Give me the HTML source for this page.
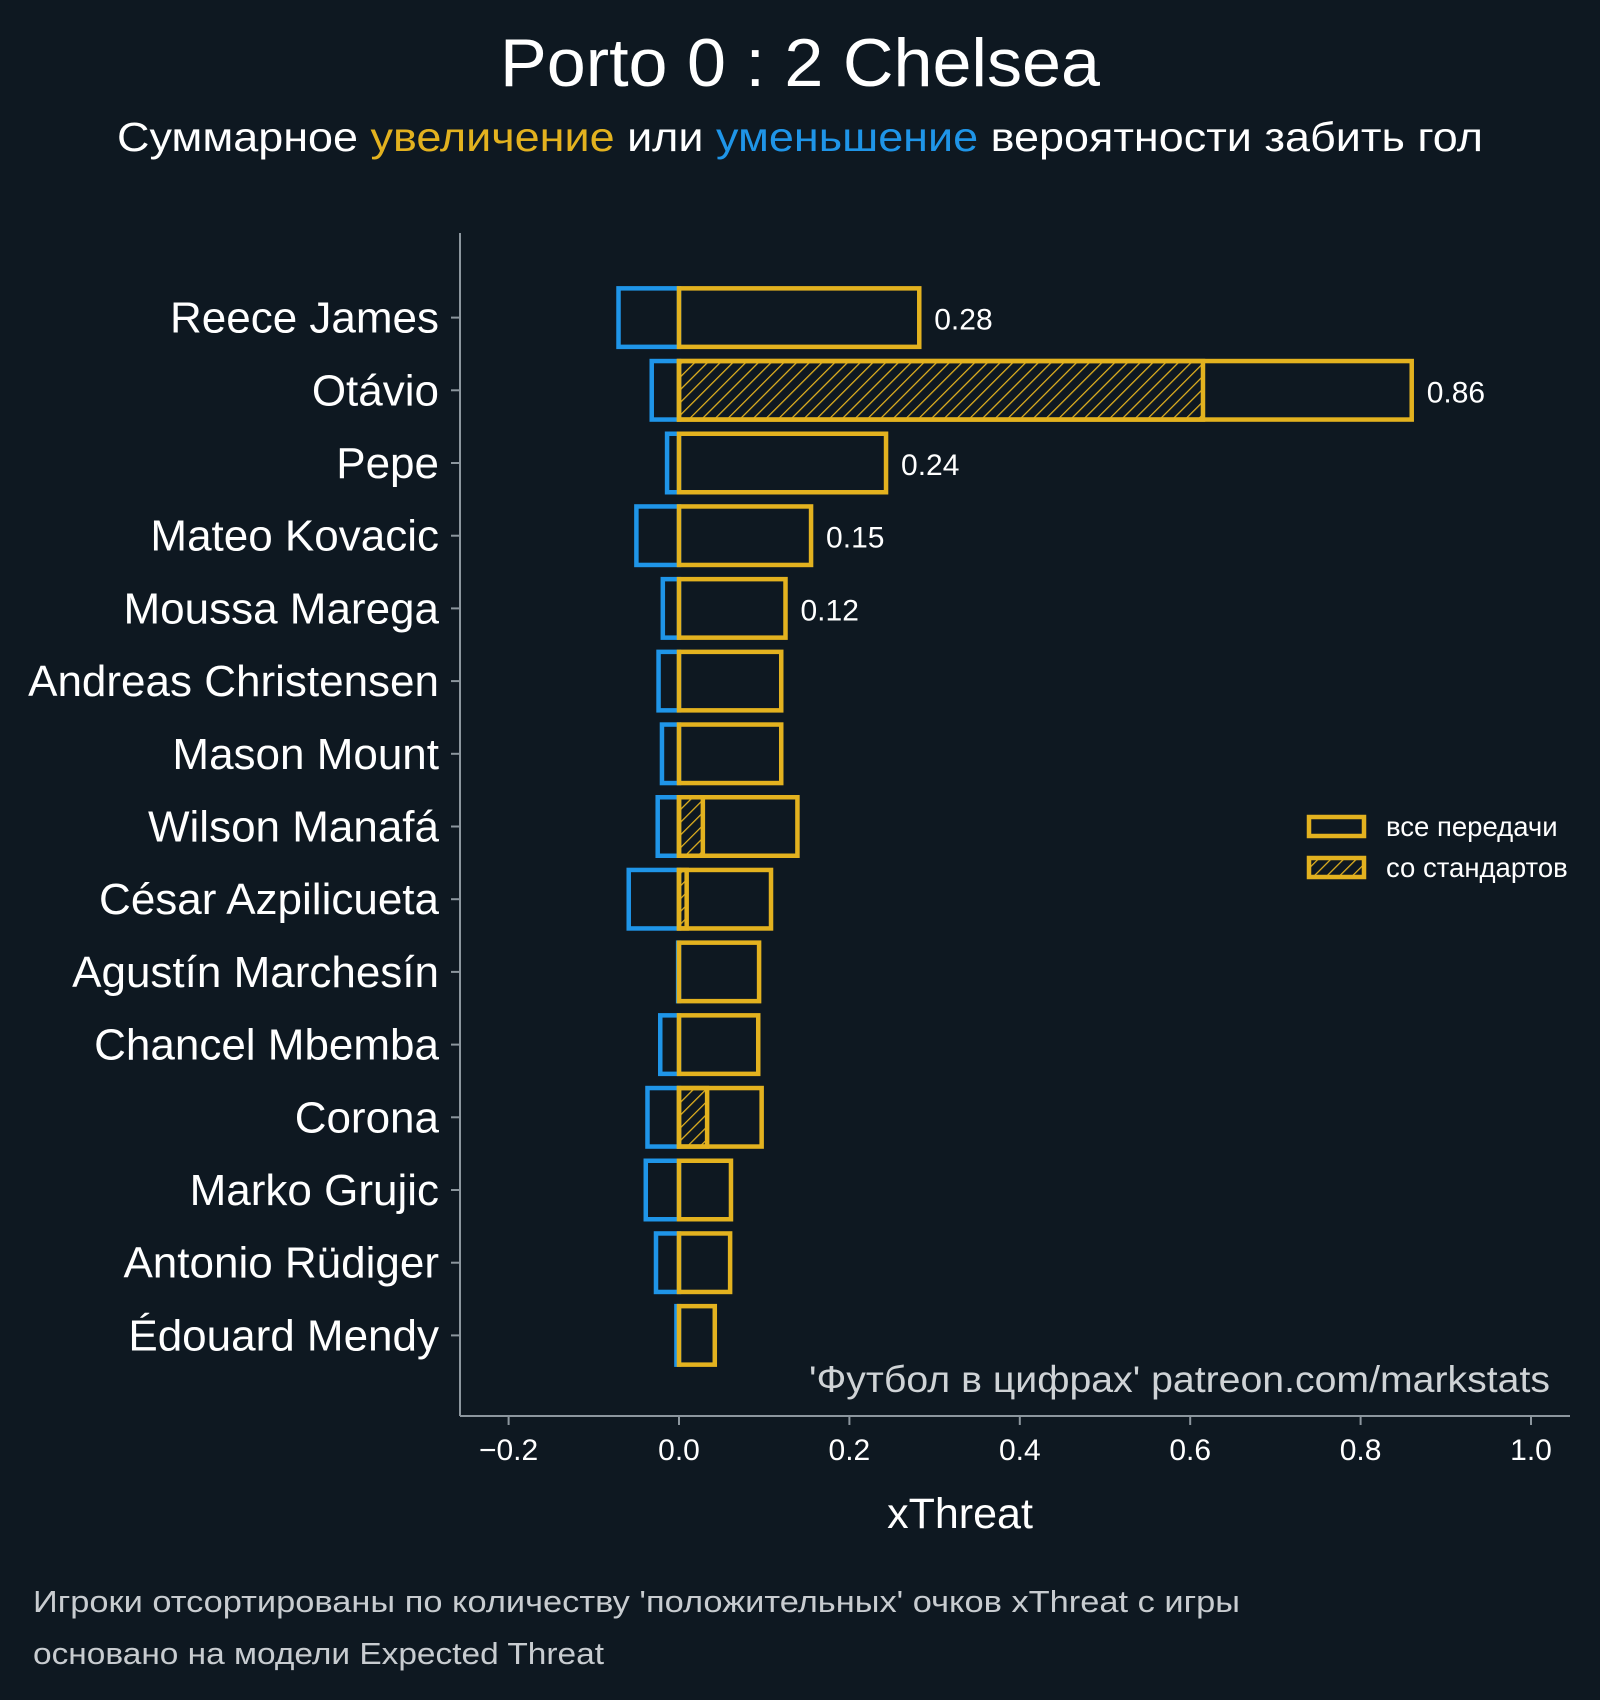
<!DOCTYPE html>
<html><head><meta charset="utf-8"><style>
html,body{margin:0;padding:0;background:#0e1821;}
svg{display:block;font-family:"Liberation Sans","DejaVu Sans",sans-serif;}
</style></head><body>
<svg id="chart" width="1600" height="1700" viewBox="0 0 1600 1700" xmlns="http://www.w3.org/2000/svg">
<defs>
<pattern id="hatch" patternUnits="userSpaceOnUse" width="9" height="9" patternTransform="rotate(45)">
<line x1="0" y1="0" x2="0" y2="9" stroke="#e3b21f" stroke-width="2.5"/>
</pattern>
</defs>
<rect width="1600" height="1700" fill="#0e1821"/>
<text x="800" y="86" text-anchor="middle" font-size="68" textLength="600" lengthAdjust="spacingAndGlyphs" fill="#ffffff">Porto 0 : 2 Chelsea</text>
<text x="800" y="151" text-anchor="middle" font-size="41" textLength="1366" lengthAdjust="spacingAndGlyphs" fill="#ffffff">Суммарное <tspan fill="#e3b21f">увеличение</tspan> или <tspan fill="#1f95e8">уменьшение</tspan> вероятности забить гол</text>
<g id="plot"></g>
<text x="1550" y="1392" text-anchor="end" font-size="37" textLength="741" lengthAdjust="spacingAndGlyphs" fill="#cfd3d6">'Футбол в цифрах' patreon.com/markstats</text>
<text x="960" y="1528" text-anchor="middle" font-size="43" fill="#ffffff">xThreat</text>
<g>
<rect x="1309" y="817" width="55" height="19" fill="none" stroke="#e3b21f" stroke-width="4.5"/>
<text x="1386" y="836" font-size="27.5" fill="#ffffff">все передачи</text>
<rect x="1309" y="858" width="55" height="19" fill="url(#hatch)" stroke="#e3b21f" stroke-width="4.5"/>
<text x="1386" y="877" font-size="27.5" fill="#ffffff">со стандартов</text>
</g>
<text x="33" y="1612" font-size="31" textLength="1207" lengthAdjust="spacingAndGlyphs" fill="#c8ccd0">Игроки отсортированы по количеству 'положительных' очков xThreat с игры</text>
<text x="33" y="1664" font-size="31" textLength="571" lengthAdjust="spacingAndGlyphs" fill="#c8ccd0">основано на модели Expected Threat</text>
</svg>
<script>
const players = ["Reece James","Otávio","Pepe","Mateo Kovacic","Moussa Marega","Andreas Christensen","Mason Mount","Wilson Manafá","César Azpilicueta","Agustín Marchesín","Chancel Mbemba","Corona","Marko Grujic","Antonio Rüdiger","Édouard Mendy"];
const positive = [0.282,0.86,0.243,0.155,0.125,0.12,0.12,0.139,0.108,0.094,0.093,0.097,0.061,0.06,0.042];
const setPiece = [0,0.615,0,0,0,0,0,0.028,0.009,0,0,0.033,0,0,0];
const negative = [-0.071,-0.032,-0.014,-0.05,-0.019,-0.024,-0.02,-0.025,-0.059,-0.001,-0.022,-0.037,-0.039,-0.027,-0.003];
const labelled = [0.28,0.86,0.24,0.15,0.12];
const ticks = [-0.2,0.0,0.2,0.4,0.6,0.8,1.0];
const tickLabels = ["−0.2","0.0","0.2","0.4","0.6","0.8","1.0"];

const NS="http://www.w3.org/2000/svg";
const plot=document.getElementById('plot');
const X=v=>679+v*852;
const Y=i=>317.6+i*72.7;
const BH=58.5;
function mk(tag,attrs,txt){const e=document.createElementNS(NS,tag);for(const k in attrs)e.setAttribute(k,attrs[k]);if(txt!=null)e.textContent=txt;plot.appendChild(e);return e;}
let e=mk('line',{x1:460,y1:233,x2:460,y2:1416,stroke:'#8c969e','stroke-width':2});


e=mk('line',{x1:460,y1:1416,x2:1570,y2:1416,stroke:'#8c969e','stroke-width':2});


ticks.forEach((t,i)=>{
 let l=mk('line',{x1:X(t),y1:1416,x2:X(t),y2:1425,stroke:'#8c969e','stroke-width':2});
 
 
 let tx=mk('text',{x:X(t),y:1460,'text-anchor':'middle','font-size':30,fill:'#ffffff'},tickLabels[i]);
 
 
});
players.forEach((p,i)=>{
 const y=Y(i);
 let l=mk('line',{x1:451,y1:y,x2:460,y2:y,stroke:'#8c969e','stroke-width':2});
 
 
 let t=mk('text',{x:439,y:y+15,'text-anchor':'end','font-size':44,fill:'#ffffff'},p);
 
 
 let nb=mk('rect',{x:X(negative[i]),y:y-BH/2,width:Math.max(0.5,X(0)-X(negative[i])),height:BH,fill:'none',stroke:'#1f95e8','stroke-width':4.5});
 
 
 if(setPiece[i]>0){
  let sb=mk('rect',{x:X(0),y:y-BH/2,width:X(setPiece[i])-X(0),height:BH,fill:'url(#hatch)',stroke:'#e3b21f','stroke-width':4.5});
  
  
 }
 let pb=mk('rect',{x:X(0),y:y-BH/2,width:X(positive[i])-X(0),height:BH,fill:'none',stroke:'#e3b21f','stroke-width':4.5});
 
 
 if(i<labelled.length){
  let v=mk('text',{x:X(positive[i])+15,y:y+12,'font-size':30,fill:'#ffffff'},labelled[i].toFixed(2));
  
  
 }
});
</script>
</body></html>
